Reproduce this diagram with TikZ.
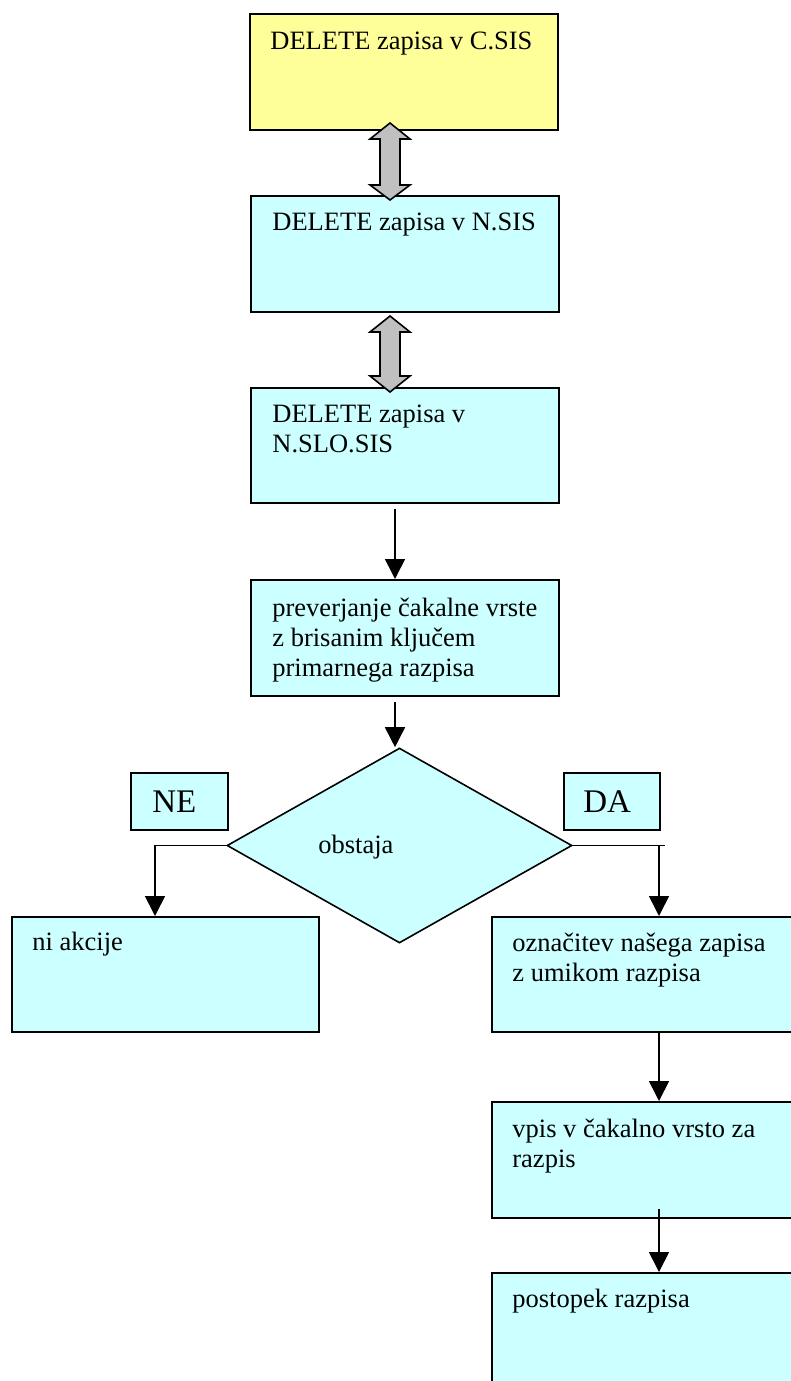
\documentclass[tikz,border=0pt]{standalone}
\usepackage{fontspec}
\setmainfont{Liberation Serif}
\usetikzlibrary{arrows.meta,calc,shapes.geometric}

\definecolor{boxyellow}{HTML}{FFFF99}
\definecolor{boxcyan}{HTML}{CCFFFF}
\definecolor{arrowgray}{HTML}{C0C0C0}

\begin{document}
\begin{tikzpicture}[x=0.5pt,y=-0.5pt,
  box/.style={draw=black,line width=0.8pt,inner sep=0pt,anchor=north west},
  % multi-line texts are placed by the baseline of their last line
  txt/.style={anchor=base west,inner sep=0pt,align=left,font=\fontsize{13.25}{15}\selectfont},
  tag/.style={anchor=base west,inner sep=0pt,font=\fontsize{16.5}{18}\selectfont},
  flow/.style={line width=0.8pt,-{Triangle[width=10pt,length=10pt]}},
  link/.style={line width=0.8pt},
  twoway/.style={draw=black,fill=arrowgray,line width=0.8pt,line join=miter}]

\useasboundingbox (0,0) rectangle (791,1381);
\fill[white] (0,0) rectangle (791,1381);
\clip (0,0) rectangle (791,1381);

% vertical axes of the connectors
\coordinate (axL) at (395,0);
\coordinate (axN) at (155,0);
\coordinate (axR) at (659,0);

% process boxes
\node[box,fill=boxyellow,minimum width=154pt,minimum height=58pt] (b1) at (249,13) {};
\node[box,fill=boxcyan,minimum width=154pt,minimum height=58pt] (b2) at (250,195) {};
\node[box,fill=boxcyan,minimum width=154pt,minimum height=57.5pt] (b3) at (250,387) {};
\node[box,fill=boxcyan,minimum width=154pt,minimum height=58pt] (b4) at (250,579) {};
\node[box,fill=boxcyan,minimum width=153.5pt,minimum height=57.5pt] (ni) at (11,916) {};
\node[box,fill=boxcyan,minimum width=154.5pt,minimum height=57.5pt] (ozn) at (491,916) {};
\node[box,fill=boxcyan,minimum width=154.5pt,minimum height=58pt] (vpis) at (491,1101) {};
\node[box,fill=boxcyan,minimum width=154.5pt,minimum height=64pt] (post) at (491,1272) {};

% branch labels
\node[box,fill=boxcyan,minimum width=48.5pt,minimum height=28.5pt] (ne) at (130,772) {};
\node[box,fill=boxcyan,minimum width=48pt,minimum height=28.5pt] (da) at (563,772) {};

% decision
\node[diamond,draw=black,fill=boxcyan,line width=0.8pt,inner sep=0pt,
      minimum width=172.5pt,minimum height=97.5pt] (dec) at (399.5,845.5) {};

% texts
\node[txt] (t1) at (270,49) {DELETE zapisa v C.SIS};
\node[txt] (t2) at (272,230) {DELETE zapisa v N.SIS};
\node[txt] (t3) at (272,452) {DELETE zapisa v\\N.SLO.SIS};
\node[txt] (t4) at (272,676) {preverjanje čakalne vrste\\z brisanim ključem\\primarnega razpisa};
\node[txt] (tdec) at (318,853) {obstaja};
\node[tag] (tne) at (152,812) {NE};
\node[tag] (tda) at (583,812) {DA};
\node[txt] (tni) at (32,950) {ni akcije};
\node[txt] (tozn) at (512,981) {označitev našega zapisa\\z umikom razpisa};
\node[txt] (tvpis) at (512,1167) {vpis v čakalno vrsto za\\razpis};
\node[txt] (tpost) at (512,1307) {postopek razpisa};

% two-way links between the systems
\filldraw[twoway] (390,123) -- (410,139) -- (400,139) -- (400,185) -- (410,185)
  -- (390,200) -- (370,185) -- (380,185) -- (380,139) -- (370,139) -- cycle;
\filldraw[twoway] (390,316) -- (410,332) -- (400,332) -- (400,376) -- (410,376)
  -- (390,392) -- (370,376) -- (380,376) -- (380,332) -- (370,332) -- cycle;

% flow connectors
\draw[flow,shorten <=2.5pt] (b3.south -| axL) -- (b4.north -| axL);
\draw[flow,shorten <=2.5pt] (b4.south -| axL) -- (dec.north -| axL);
\draw[flow] (dec.west) -| (ni.north -| axN);
\draw[link] (dec.east) -- ($(dec.east)+(92,0)$);
\draw[flow] (dec.east -| axR) -- (ozn.north -| axR);
\draw[flow,shorten <=-1pt] (ozn.south -| axR) -- (vpis.north -| axR);
\draw[flow,shorten <=-5pt] (vpis.south -| axR) -- (post.north -| axR);
\end{tikzpicture}
\end{document}
